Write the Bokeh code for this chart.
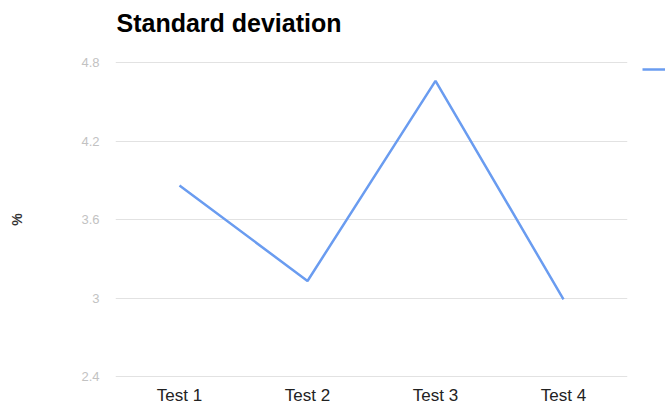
from bokeh.plotting import figure
from bokeh.models import FactorRange, Range1d, FixedTicker, CustomJSTickFormatter, Legend, LegendItem, Label
from bokeh.embed import file_html
from bokeh.resources import INLINE

categories = ["Test 1", "Test 2", "Test 3", "Test 4"]
sd_values = [3.86, 3.13, 4.66, 2.99]
y_ticks = [2.4, 3.0, 3.6, 4.2, 4.8]
chart_title = "Standard deviation"

px = 2.4 / 314.0
FW, FH = 512, 316
p = figure(
    x_range=FactorRange(*categories, range_padding=0, factor_padding=0),
    y_range=Range1d(2.4 - px, 4.8 + px),
    frame_width=FW, frame_height=FH,
    min_border_left=115, min_border_right=38, min_border_top=61, min_border_bottom=28,
    output_backend="svg", toolbar_location=None,
)

r = p.line(categories, sd_values, line_color="#6a9cf0", line_width=2.5)

title_label = Label(x=1, y=39, x_units="screen", y_units="screen", text=chart_title,
                    text_font="Liberation Sans", text_font_size="25px", text_font_style="bold",
                    text_color="#000000", text_baseline="alphabetic", text_align="left")
p.add_layout(title_label, "above")

p.outline_line_color = None
p.xgrid.grid_line_color = None
p.ygrid.grid_line_color = "#e2e2e2"
p.ygrid.grid_line_width = 1

p.yaxis.ticker = FixedTicker(ticks=y_ticks)
p.yaxis.formatter = CustomJSTickFormatter(code="return tick.toFixed(1).replace(/\\.0$/, '');")
p.yaxis.axis_line_color = None
p.yaxis.major_tick_line_color = None
p.yaxis.minor_tick_line_color = None
p.yaxis.major_tick_out = 0
p.yaxis.major_label_standoff = 16
p.yaxis.major_label_text_font = "Liberation Sans"
p.yaxis.major_label_text_font_size = "13px"
p.yaxis.major_label_text_color = "#c2c2c2"
p.yaxis.axis_label = "%"
p.yaxis.axis_label_text_font = "Liberation Sans"
p.yaxis.axis_label_text_font_size = "14px"
p.yaxis.axis_label_text_font_style = "bold"
p.yaxis.axis_label_text_color = "#333333"
p.yaxis.axis_label_standoff = 53

p.xaxis.axis_line_color = None
p.xaxis.major_tick_line_color = None
p.xaxis.minor_tick_line_color = None
p.xaxis.major_tick_out = 0
p.xaxis.major_label_standoff = 8
p.xaxis.major_label_text_font = "Liberation Sans"
p.xaxis.major_label_text_font_size = "17px"
p.xaxis.major_label_text_color = "#222222"

legend = Legend(items=[LegendItem(label=" ", renderers=[r])],
                location=(15, FH + 2 - 20), padding=0, margin=0, spacing=0,
                border_line_alpha=0, background_fill_alpha=0,
                glyph_width=24, glyph_height=20, label_width=0, label_height=20,
                label_text_font_size="13px", label_standoff=0)
p.add_layout(legend, "right")

open("out.html", "w").write(file_html(p, INLINE))
